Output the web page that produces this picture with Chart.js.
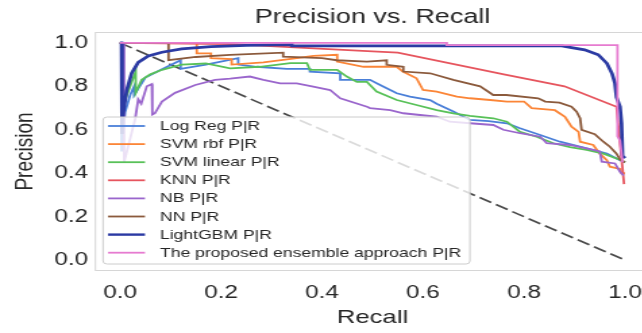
<!DOCTYPE html>
<html>
<head>
<meta charset="utf-8">
<script src="https://cdn.jsdelivr.net/npm/chart.js@4"></script>
<style>
  html, body { margin: 0; padding: 0; background: #fff; overflow: hidden; }
  #wrap { width: 642px; height: 333px; overflow: hidden; }
  /* the reference picture is stretched sideways, so the canvas is too */
  #c { transform: scaleX(1.35); transform-origin: 0 0; }
</style>
</head>
<body>
<div id="wrap"><canvas id="c" width="552" height="333"></canvas></div>
<script>
// tick labels
const xTicks = [0, 0.2, 0.4, 0.6, 0.8, 1.0];
const yTicks = [0, 0.2, 0.4, 0.6, 0.8, 1.0];

const seriesNames = ['Log Reg P|R', 'SVM rbf P|R', 'SVM linear P|R', 'KNN P|R',
  'NB P|R', 'NN P|R', 'LightGBM P|R', 'The proposed ensemble approach P|R'];
const seriesColors = ['#4a7fd8', '#fb8537', '#58c158', '#e6555e',
  '#9a66cc', '#8b5a3c', '#2b3aa3', '#e67bd0'];

// [recall, precision]
const logRegPR = [[0,1],[0.003,1],[0.003,0.5],[0.01,0.68],[0.02,0.76],[0.028,0.80],[0.028,0.76],
  [0.05,0.84],[0.08,0.875],[0.12,0.92],[0.12,0.88],[0.17,0.90],[0.234,0.93],[0.234,0.90],[0.27,0.89],
  [0.33,0.88],[0.376,0.88],[0.376,0.868],[0.436,0.86],[0.436,0.83],[0.495,0.83],[0.515,0.806],
  [0.548,0.768],[0.574,0.753],[0.614,0.737],[0.627,0.72],[0.66,0.684],[0.693,0.645],[0.73,0.64],
  [0.766,0.63],[0.792,0.607],[0.832,0.576],[0.871,0.545],[0.924,0.515],[0.964,0.49],[0.99,0.46],[1.0,0.45]];

const svmRbfPR = [[0,1],[0.152,1],[0.152,0.952],[0.18,0.952],[0.18,0.93],[0.221,0.925],[0.221,0.90],
  [0.284,0.91],[0.35,0.93],[0.383,0.94],[0.43,0.945],[0.43,0.914],[0.482,0.89],[0.548,0.89],[0.56,0.868],
  [0.587,0.837],[0.60,0.783],[0.627,0.776],[0.667,0.753],[0.693,0.745],[0.733,0.737],[0.766,0.73],
  [0.80,0.73],[0.815,0.70],[0.861,0.69],[0.881,0.66],[0.894,0.614],[0.908,0.59],[0.911,0.545],
  [0.937,0.53],[0.95,0.49],[0.964,0.46],[0.97,0.43],[0.99,0.42],[0.993,0.40],[1.0,0.40]];

const svmLinearPR = [[0,1],[0.004,1],[0.004,0.70],[0.02,0.80],[0.031,0.868],[0.031,0.77],[0.043,0.83],
  [0.06,0.855],[0.083,0.876],[0.122,0.90],[0.17,0.905],[0.218,0.883],[0.277,0.89],[0.337,0.907],
  [0.37,0.907],[0.376,0.876],[0.43,0.876],[0.449,0.845],[0.469,0.82],[0.489,0.82],[0.495,0.806],
  [0.508,0.776],[0.548,0.737],[0.587,0.714],[0.627,0.69],[0.66,0.676],[0.693,0.664],[0.739,0.653],
  [0.766,0.637],[0.792,0.59],[0.825,0.568],[0.858,0.538],[0.891,0.52],[0.924,0.507],[0.957,0.49],
  [0.983,0.468],[0.993,0.46],[1.0,0.45]];

const knnPR = [[0,1],[0.22,0.994],[0.49,0.962],[0.55,0.955],[0.76,0.855],[0.88,0.80],[0.983,0.706],[0.998,0.35]];

const nbPR = [[0,1],[0.008,1],[0.008,0.45],[0.03,0.65],[0.036,0.74],[0.042,0.72],[0.053,0.80],[0.063,0.81],
  [0.064,0.67],[0.069,0.676],[0.083,0.73],[0.109,0.77],[0.149,0.806],[0.188,0.83],[0.218,0.835],
  [0.257,0.845],[0.284,0.83],[0.317,0.814],[0.35,0.814],[0.38,0.80],[0.416,0.783],[0.436,0.745],
  [0.489,0.706],[0.495,0.70],[0.535,0.69],[0.561,0.676],[0.627,0.66],[0.653,0.637],[0.693,0.63],
  [0.739,0.622],[0.759,0.60],[0.792,0.584],[0.832,0.568],[0.845,0.538],[0.891,0.53],[0.937,0.507],
  [0.95,0.50],[0.954,0.453],[0.98,0.445],[0.99,0.407],[0.997,0.39]];

const nnPR = [[0,1],[0.096,1],[0.096,0.92],[0.15,0.935],[0.218,0.945],[0.323,0.955],[0.323,0.937],
  [0.40,0.93],[0.429,0.92],[0.489,0.914],[0.528,0.92],[0.528,0.899],[0.561,0.89],[0.561,0.868],
  [0.614,0.86],[0.66,0.83],[0.713,0.80],[0.739,0.76],[0.765,0.76],[0.828,0.745],[0.842,0.73],
  [0.87,0.725],[0.894,0.706],[0.904,0.683],[0.911,0.653],[0.914,0.60],[0.94,0.58],[0.957,0.545],
  [0.97,0.522],[0.983,0.49],[0.99,0.464],[1.0,0.45]];

const lightgbmPR = [[0,1],[0.003,1],[0.003,0.58],[0.005,0.64],[0.0066,0.68],[0.013,0.78],[0.023,0.86],
  [0.036,0.91],[0.056,0.94],[0.083,0.957],[0.122,0.972],[0.18,0.983],[0.25,0.988],[0.34,0.992],
  [0.34,0.986],[0.875,0.986],[0.894,0.978],[0.92,0.968],[0.947,0.945],[0.964,0.906],[0.974,0.86],
  [0.98,0.814],[0.983,0.75],[0.99,0.706],[0.993,0.63],[0.995,0.48],[1.0,0.47]];

const ensemblePR = [[0,1],[0.647,1],[0.647,0.99],[0.985,0.99],[0.985,0.57],[0.99,0.55],[0.995,0.45]];

const noSkillPR = [[0,1],[1,0]];

const allSeries = [logRegPR, svmRbfPR, svmLinearPR, knnPR, nbPR, nnPR, lightgbmPR, ensemblePR];

Chart.defaults.font.family = "'Liberation Sans', Arial, sans-serif";
Chart.defaults.color = '#262626';

const toPts = arr => arr.map(p => ({ x: p[0], y: p[1] }));

const datasets = [{
  label: 'no skill',
  data: toPts(noSkillPR),
  showLine: true, pointRadius: 0,
  borderColor: '#4a4a4a', borderWidth: 1.7, borderDash: [10, 4],
  order: 20
}];
allSeries.forEach((s, i) => {
  datasets.push({
    label: seriesNames[i],
    data: toPts(s),
    showLine: true, pointRadius: 0,
    borderColor: seriesColors[i],
    borderWidth: i === 6 ? 2.7 : 1.8,
    order: 10 - i
  });
});

// light grey box round the plot
const framePlugin = {
  id: 'frame',
  beforeDatasetsDraw(chart) {
    const a = chart.chartArea, ctx = chart.ctx;
    ctx.save();
    ctx.strokeStyle = '#d6d6d6';
    ctx.lineWidth = 1;
    ctx.strokeRect(a.left + 0.5, a.top + 0.5, a.right - a.left - 1, a.bottom - a.top - 1);
    ctx.restore();
  }
};

// legend inside the plot, bottom left, like matplotlib
const boxLegend = {
  id: 'boxLegend',
  afterDatasetsDraw(chart) {
    const ctx = chart.ctx;
    const x0 = 76.3, x1 = 348.1, y0 = 117, y1 = 264, r = 3;
    ctx.save();
    ctx.beginPath();
    ctx.moveTo(x0 + r, y0);
    ctx.lineTo(x1 - r, y0); ctx.quadraticCurveTo(x1, y0, x1, y0 + r);
    ctx.lineTo(x1, y1 - r); ctx.quadraticCurveTo(x1, y1, x1 - r, y1);
    ctx.lineTo(x0 + r, y1); ctx.quadraticCurveTo(x0, y1, x0, y1 - r);
    ctx.lineTo(x0, y0 + r); ctx.quadraticCurveTo(x0, y0, x0 + r, y0);
    ctx.closePath();
    ctx.fillStyle = 'rgba(255,255,255,0.8)';
    ctx.fill();
    ctx.strokeStyle = '#cccccc';
    ctx.lineWidth = 1;
    ctx.stroke();
    ctx.font = "13px 'Liberation Sans', Arial, sans-serif";
    ctx.textBaseline = 'middle';
    seriesNames.forEach((name, i) => {
      const y = 126 + i * 18.1;
      ctx.strokeStyle = seriesColors[i];
      ctx.lineWidth = i === 6 ? 2.4 : 1.8;
      ctx.beginPath();
      ctx.moveTo(80, y); ctx.lineTo(107.4, y);
      ctx.stroke();
      ctx.fillStyle = '#262626';
      ctx.fillText(name, 118.5, y + 0.5);
    });
    ctx.restore();
  }
};

new Chart(document.getElementById('c'), {
  type: 'scatter',
  data: { datasets },
  options: {
    responsive: false,
    animation: false,
    layout: { padding: 0 },
    plugins: {
      legend: { display: false },
      tooltip: { enabled: false },
      title: {
        display: true, text: 'Precision vs. Recall',
        font: { size: 20, weight: 'normal' },
        padding: { top: 5, bottom: 3 }
      }
    },
    scales: {
      x: {
        type: 'linear', min: -0.05, max: 1.05,
        grid: { display: false, drawTicks: false },
        border: { display: false },
        ticks: { font: { size: 18 }, padding: 11, callback: v => v.toFixed(1) },
        title: { display: true, text: 'Recall', font: { size: 19 }, padding: { top: 0, bottom: 4 } },
        afterBuildTicks: s => { s.ticks = xTicks.map(v => ({ value: v })); },
        afterFit: s => { s.height = 62; }
      },
      y: {
        type: 'linear', min: -0.05, max: 1.05,
        grid: { display: false, drawTicks: false },
        border: { display: false },
        ticks: { font: { size: 18 }, padding: 5, callback: v => v.toFixed(1) },
        title: { display: true, text: 'Precision', font: { size: 19 }, padding: { top: 7, bottom: 0 } },
        afterBuildTicks: s => { s.ticks = yTicks.map(v => ({ value: v })); },
        afterFit: s => { s.width = 70.2; }
      },
      // empty right-hand box so the plot and title sit where they do in the picture
      yRight: {
        type: 'linear', position: 'right', min: 0, max: 1,
        grid: { display: false, drawTicks: false },
        border: { display: false },
        ticks: { display: false },
        afterFit: s => { s.width = 70.3; }
      }
    }
  },
  plugins: [framePlugin, boxLegend]
});
</script>
</body>
</html>
